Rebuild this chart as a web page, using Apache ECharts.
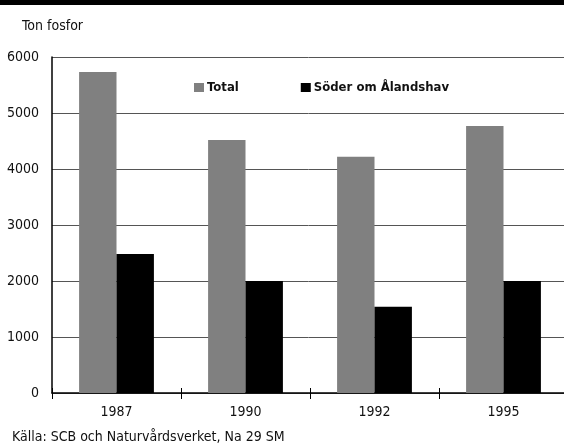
<!DOCTYPE html>
<html>
<head>
<meta charset="utf-8">
<script src="https://cdn.jsdelivr.net/npm/echarts@6/dist/echarts.min.js"></script>
<style>
  html, body { margin: 0; padding: 0; background: #fff; }
  #main { width: 564px; height: 447px; }
</style>
</head>
<body>
<div id="main"></div>
<script>
var years = ['1987', '1990', '1992', '1995']
var total = [5730, 4520, 4220, 4770]
var soder = [2480, 2000, 1540, 2000]
var yTicks = [0, 1000, 2000, 3000, 4000, 5000, 6000]

var font = '"DejaVu Sans Condensed", "Liberation Sans Narrow", sans-serif'
var myChart = echarts.init(document.getElementById('main'))

var option = {
  animation: false,
  textStyle: { fontFamily: font },
  title: {
    text: 'Ton fosfor',
    left: 17,
    top: 14,
    textStyle: { fontFamily: font, fontSize: 14, fontWeight: 'normal', color: '#111' }
  },
  graphic: [
    { type: 'rect', shape: { x: 0, y: 0, width: 564, height: 5 }, style: { fill: '#000' } },
    {
      type: 'text', left: 12, top: 430,
      style: { text: 'Källa: SCB och Naturvårdsverket, Na 29 SM', font: '14px ' + font, fill: '#111' }
    }
  ],
  legend: {
    left: 189,
    top: 76,
    icon: 'rect',
    itemWidth: 10,
    itemHeight: 9,
    itemGap: 62,
    textStyle: { fontFamily: font, fontSize: 13, fontWeight: 'bold', color: '#111', padding: [0, 0, 0, -2] },
    data: ['Total', 'Söder om Ålandshav']
  },
  grid: { left: 52, right: -4, top: 57, bottom: 54, outerBoundsMode: 'none', containLabel: false },
  xAxis: [
    {
      type: 'category',
      data: years,
      axisLine: { lineStyle: { color: '#000', width: 1.5 } },
      axisTick: { show: true, length: 6, lineStyle: { color: '#000' } },
      axisLabel: { fontFamily: font, fontSize: 14, color: '#111', margin: 12 }
    },
    {
      type: 'category',
      data: years,
      position: 'bottom',
      axisLine: { show: false },
      axisTick: { show: true, inside: true, length: 5, lineStyle: { color: '#000' } },
      axisLabel: { show: false }
    }
  ],
  yAxis: {
    type: 'value',
    min: yTicks[0],
    max: yTicks[yTicks.length - 1],
    interval: 1000,
    axisLine: { show: true, lineStyle: { color: '#000', width: 1.5 } },
    axisTick: { show: false },
    splitLine: { lineStyle: { color: '#555', width: 1 } },
    axisLabel: {
      fontFamily: font, fontSize: 14, color: '#111', margin: 13,
      formatter: function (v) { return String(v) }
    }
  },
  series: [
    {
      name: 'Total',
      type: 'bar',
      data: total,
      barGap: '0%',
      barCategoryGap: '42%',
      itemStyle: { color: '#808080' }
    },
    {
      name: 'Söder om Ålandshav',
      type: 'bar',
      data: soder,
      barGap: '0%',
      barCategoryGap: '42%',
      itemStyle: { color: '#000' }
    }
  ]
}
myChart.setOption(option)
</script>
</body>
</html>
